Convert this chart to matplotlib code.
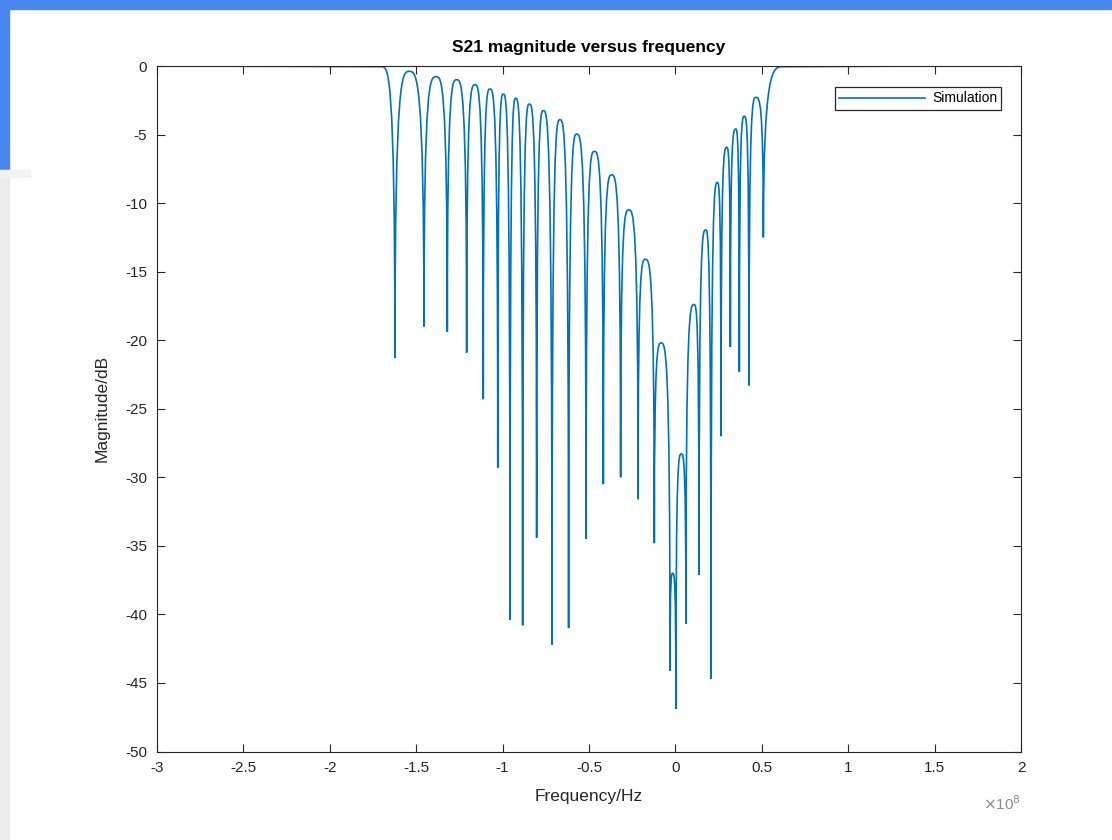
import numpy as np
import matplotlib
matplotlib.use("Agg")
import matplotlib.pyplot as plt
from matplotlib.path import Path
from matplotlib.patches import PathPatch, Rectangle
from matplotlib.lines import Line2D
from matplotlib.ticker import FuncFormatter, MultipleLocator

plt.rcParams['font.family'] = ['Liberation Sans', 'DejaVu Sans']
plt.rcParams['axes.unicode_minus'] = False

# frequencies in units of 1e8 Hz, magnitudes in dB
span_f = [-2.96, 1.57]                  # flat 0 dB line ends
start_f, start_db = -1.70, -0.05        # shoulder before first notch
end_f, end_db = 0.62, -0.05             # shoulder after last notch

dip_f = [-1.623, -1.455, -1.320, -1.208, -1.112, -1.028, -0.957, -0.884,
         -0.803, -0.714, -0.618, -0.517, -0.417, -0.317, -0.216, -0.122,
         -0.031, 0.003, 0.061, 0.137, 0.206, 0.264, 0.318, 0.370, 0.426, 0.509]
dip_db = [-21.3, -19.0, -19.4, -20.9, -24.3, -29.3, -40.4, -40.8,
          -34.4, -42.2, -41.0, -34.5, -30.5, -30.0, -31.6, -34.8,
          -44.1, -46.9, -40.7, -37.1, -44.7, -27.0, -20.5, -22.3, -23.3, -12.5]

peak_f = [-1.540, -1.385, -1.266, -1.160, -1.073, -0.996, -0.924, -0.845,
          -0.764, -0.668, -0.571, -0.469, -0.369, -0.270, -0.174, -0.083,
          -0.016, 0.034, 0.108, 0.175, 0.243, 0.297, 0.349, 0.399, 0.466]
peak_db = [-0.39, -0.78, -1.0, -1.37, -1.68, -2.05, -2.36, -2.78,
           -3.26, -3.92, -4.97, -6.23, -7.94, -10.5, -14.1, -20.2,
           -37.0, -28.3, -17.4, -11.96, -8.5, -5.94, -4.6, -3.67, -2.29]

line_color = '#0072BD'
axis_color = '#262626'


def lobe_path():
    # alternate shoulder/peak and notch nodes, joined with cubic curves
    tops = [(start_f, start_db)] + list(zip(peak_f, peak_db)) + [(end_f, end_db)]
    verts = [(span_f[0] * 1e8, 0.0), (tops[0][0] * 1e8, tops[0][1])]
    codes = [Path.MOVETO, Path.LINETO]
    for i, (df, ddb) in enumerate(zip(dip_f, dip_db)):
        pf, pdb = tops[i]
        nf, ndb = tops[i + 1]
        # top -> notch
        verts += [((pf + 0.5 * (df - pf)) * 1e8, pdb), (df * 1e8, pdb), (df * 1e8, ddb)]
        codes += [Path.CURVE4] * 3
        # notch -> next top
        verts += [(df * 1e8, ndb), ((df + 0.5 * (nf - df)) * 1e8, ndb), (nf * 1e8, ndb)]
        codes += [Path.CURVE4] * 3
    verts.append((span_f[1] * 1e8, 0.0))
    codes.append(Path.LINETO)
    return Path(verts, codes)


fig = plt.figure(figsize=(11.12, 8.4), dpi=100)
# screenshot frame bits
fig.add_artist(Rectangle((0, 1 - 9 / 840), 1, 9 / 840, transform=fig.transFigure,
                         color='#4a86f0', zorder=0))
fig.add_artist(Rectangle((0, 1 - 170 / 840), 9 / 1112, 170 / 840, transform=fig.transFigure,
                         color='#4a86f0', zorder=0))
fig.add_artist(Rectangle((0, 0), 9 / 1112, 1 - 170 / 840, transform=fig.transFigure,
                         color='#ececec', zorder=0))
fig.add_artist(Rectangle((0, 1 - 177 / 840), 30 / 1112, 7 / 840, transform=fig.transFigure,
                         color='#f2f2f2', zorder=0))

ax = fig.add_axes([157 / 1112, 1 - 751.5 / 840, 864 / 1112, 685.5 / 840])
ax.add_patch(PathPatch(lobe_path(), fill=False, edgecolor=line_color, lw=1.2))

ax.set_xlim(-3e8, 2e8)
ax.set_ylim(-50, 0)
ax.xaxis.set_major_locator(MultipleLocator(0.5e8))
ax.yaxis.set_major_locator(MultipleLocator(5))
ax.xaxis.set_major_formatter(FuncFormatter(lambda v, _: f"{v / 1e8:g}"))
ax.yaxis.set_major_formatter(FuncFormatter(lambda v, _: f"{v:g}"))

ax.tick_params(direction='in', length=6, width=0.8, top=True, right=True,
               colors=axis_color, labelsize=11, pad=7)
for s in ax.spines.values():
    s.set_color(axis_color)
    s.set_linewidth(0.8)

ax.set_title('S21 magnitude versus frequency', fontsize=12.5, fontweight='bold',
             color='black', pad=10)
ax.set_xlabel('Frequency/Hz', fontsize=12.5, color=axis_color, labelpad=10)
ax.set_ylabel('Magnitude/dB', fontsize=12.5, color=axis_color, labelpad=11)
ax.text(1.0, -0.062, r'$\times$10$^{8}$', transform=ax.transAxes, ha='right',
        va='top', fontsize=11, color='#8a8a8a')

handle = Line2D([], [], color=line_color, lw=1.2)
leg = ax.legend([handle], ['Simulation'], loc='upper right',
                bbox_to_anchor=(0.977, 0.969), borderaxespad=0, fancybox=False,
                framealpha=1, edgecolor=axis_color, fontsize=10, handlelength=6.2,
                handletextpad=0.5, borderpad=0.3)
leg.get_frame().set_linewidth(0.9)

fig.savefig('out.png', dpi=100)
